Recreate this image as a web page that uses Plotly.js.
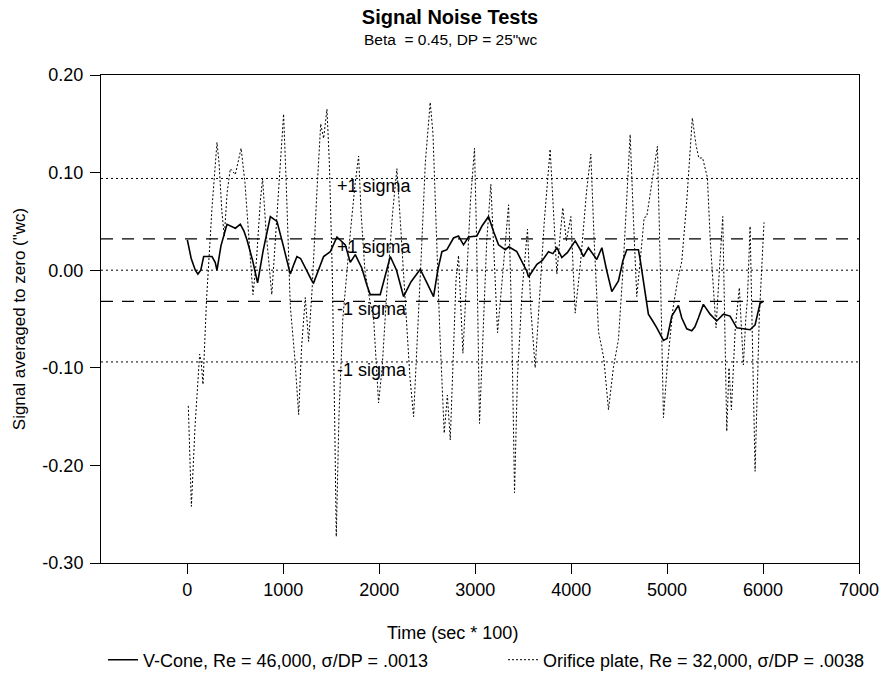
<!DOCTYPE html>
<html>
<head>
<meta charset="utf-8">
<script src="https://cdn.plot.ly/plotly-3.0.1.min.js"></script>
<style>html,body{margin:0;padding:0;background:#fff;}#chart{width:888px;height:677px;}</style>
</head>
<body>
<div id="chart"></div>
<script>
// ---- data ----
var vconeX = [0, 40, 83, 110, 140, 170, 257, 290, 309, 350, 413, 460, 500, 552, 590, 622, 680, 732, 790, 865, 934, 1000, 1073, 1110, 1142, 1180, 1240, 1299, 1316, 1380, 1420, 1490, 1559, 1646, 1698, 1750, 1819, 1870, 1906, 2010, 2060, 2115, 2180, 2253, 2330, 2427, 2497, 2566, 2610, 2653, 2705, 2774, 2826, 2878, 2930, 3017, 3069, 3139, 3190, 3243, 3313, 3350, 3434, 3490, 3538, 3556, 3600, 3643, 3700, 3764, 3810, 3851, 3903, 3960, 4042, 4090, 4128, 4180, 4267, 4320, 4370, 4424, 4493, 4540, 4580, 4640, 4701, 4719, 4771, 4805, 4850, 4893, 4962, 5000, 5049, 5118, 5153, 5205, 5257, 5290, 5326, 5378, 5448, 5517, 5587, 5656, 5726, 5800, 5865, 5917, 5969, 6003];
var vconeY = [0.031, 0.012, 0.000, -0.004, 0.000, 0.014, 0.014, 0.008, 0.000, 0.025, 0.047, 0.045, 0.043, 0.047, 0.040, 0.031, 0.010, -0.013, 0.020, 0.055, 0.050, 0.025, -0.004, 0.006, 0.014, 0.012, 0.000, -0.011, -0.013, 0.004, 0.014, 0.019, 0.034, 0.026, 0.008, 0.016, 0.002, -0.015, -0.025, -0.025, -0.005, 0.014, 0.000, -0.027, -0.012, 0.001, -0.013, -0.027, 0.000, 0.019, 0.021, 0.033, 0.035, 0.026, 0.034, 0.035, 0.045, 0.055, 0.040, 0.026, 0.021, 0.024, 0.019, 0.008, -0.001, -0.007, 0.000, 0.006, 0.010, 0.019, 0.017, 0.023, 0.013, 0.018, 0.030, 0.022, 0.014, 0.023, 0.011, 0.023, 0.000, -0.022, -0.011, 0.010, 0.021, 0.021, 0.021, 0.011, -0.025, -0.045, -0.052, -0.059, -0.072, -0.070, -0.047, -0.036, -0.049, -0.060, -0.062, -0.058, -0.049, -0.035, -0.045, -0.052, -0.045, -0.047, -0.059, -0.060, -0.061, -0.056, -0.034, -0.032];

var orificeX = [10, 25, 42, 80, 128, 145, 163, 200, 257, 309, 330, 360, 385, 415, 448, 500, 560, 600, 640, 684, 720, 760, 784, 820, 880, 930, 970, 1003, 1030, 1060, 1073, 1120, 1160, 1190, 1229, 1264, 1300, 1350, 1390, 1420, 1455, 1480, 1510, 1535, 1552, 1580, 1620, 1700, 1750, 1785, 1810, 1850, 1900, 1941, 1993, 2030, 2080, 2140, 2184, 2220, 2270, 2320, 2358, 2400, 2440, 2480, 2531, 2560, 2590, 2630, 2677, 2710, 2740, 2770, 2800, 2826, 2850, 2872, 2910, 2950, 2993, 3015, 3045, 3080, 3120, 3163, 3195, 3233, 3290, 3348, 3380, 3410, 3440, 3490, 3545, 3580, 3625, 3670, 3720, 3781, 3815, 3851, 3880, 3913, 3950, 3997, 4042, 4100, 4160, 4205, 4240, 4285, 4340, 4389, 4440, 4493, 4540, 4580, 4615, 4650, 4684, 4720, 4761, 4788, 4840, 4899, 4930, 4962, 5000, 5060, 5110, 5153, 5205, 5240, 5263, 5300, 5330, 5370, 5420, 5450, 5480, 5510, 5545, 5580, 5600, 5622, 5645, 5670, 5710, 5753, 5775, 5795, 5820, 5837, 5865, 5890, 5917, 5960, 6010];
var orificeY = [-0.139, -0.200, -0.242, -0.160, -0.086, -0.095, -0.117, -0.030, 0.064, 0.131, 0.110, 0.060, 0.035, 0.080, 0.104, 0.098, 0.125, 0.090, 0.030, -0.025, 0.010, 0.070, 0.094, 0.040, -0.025, 0.050, 0.120, 0.160, 0.090, -0.010, -0.037, -0.090, -0.148, -0.080, -0.028, -0.073, -0.020, 0.080, 0.150, 0.135, 0.165, 0.110, 0.000, -0.150, -0.273, -0.150, -0.050, 0.040, 0.090, 0.117, 0.060, 0.000, -0.030, -0.049, -0.136, -0.100, -0.020, 0.060, 0.104, 0.050, -0.030, -0.110, -0.150, -0.070, 0.020, 0.110, 0.172, 0.140, 0.050, -0.060, -0.167, -0.128, -0.174, -0.080, -0.010, 0.015, -0.040, -0.085, -0.010, 0.070, 0.125, 0.030, -0.157, -0.060, 0.030, 0.088, 0.010, -0.064, 0.000, 0.067, -0.050, -0.228, -0.110, -0.020, 0.042, -0.040, -0.100, -0.030, 0.050, 0.124, 0.060, -0.004, 0.030, 0.064, 0.030, 0.055, -0.044, 0.010, 0.080, 0.119, 0.030, -0.063, -0.090, -0.143, -0.100, -0.071, 0.000, 0.080, 0.139, 0.050, -0.027, 0.010, 0.054, 0.055, 0.090, 0.127, 0.000, -0.151, -0.100, -0.040, -0.010, 0.009, 0.071, 0.130, 0.156, 0.129, 0.115, 0.115, 0.095, 0.030, -0.020, -0.059, 0.000, 0.055, -0.050, -0.165, -0.100, -0.143, -0.060, -0.018, -0.060, -0.097, -0.050, -0.030, 0.045, -0.080, -0.206, -0.050, 0.049];

var seriesNames = ['V-Cone, Re = 46,000, \u03c3/DP = .0013', 'Orifice plate, Re = 32,000, \u03c3/DP = .0038'];
var sigmaOrifice = [0.094, -0.094];
var sigmaVcone = [0.032, -0.032];
var sigmaLabels = ['+1 sigma', '+1 sigma', '-1 sigma', '-1 sigma'];
var sigmaLabelY = [0.094, 0.032, -0.032, -0.094];
var xTickVals = [0, 1000, 2000, 3000, 4000, 5000, 6000, 7000];
var xTickText = ['0', '1000', '2000', '3000', '4000', '5000', '6000', '7000'];
var yTickVals = [0.2, 0.1, 0, -0.1, -0.2, -0.3];
var yTickText = ['0.20', '0.10', '0.00', '-0.10', '-0.20', '-0.30'];

// ---- chart ----
var FONT = 'Liberation Sans, Arial, Helvetica, sans-serif';
var traces = [
  {x: vconeX, y: vconeY, type: 'scatter', mode: 'lines', name: seriesNames[0], legend: 'legend',
   line: {color: '#000', width: 1.6}},
  {x: orificeX, y: orificeY, type: 'scatter', mode: 'lines', name: seriesNames[1], legend: 'legend2',
   line: {color: '#000', width: 1, dash: '2px,2px'}}
];

var shapes = [];
sigmaOrifice.forEach(function (v) {
  shapes.push({type: 'line', xref: 'x domain', yref: 'y', x0: 0, x1: 1, y0: v, y1: v,
    line: {color: '#000', width: 1, dash: '2px,3px'}});
});
sigmaVcone.forEach(function (v) {
  shapes.push({type: 'line', xref: 'x domain', yref: 'y', x0: 0, x1: 1, y0: v, y1: v,
    line: {color: '#000', width: 1.2, dash: '12px,9px'}});
});
shapes.push({type: 'line', xref: 'x domain', yref: 'y', x0: 0, x1: 1, y0: 0, y1: 0,
  line: {color: '#000', width: 1, dash: '2px,3px'}});

var annotations = sigmaLabels.map(function (t, i) {
  return {text: t, x: 1540, y: sigmaLabelY[i], xref: 'x', yref: 'y', xanchor: 'left', yanchor: 'top',
    yshift: 4, showarrow: false, font: {family: FONT, size: 18, color: '#000'}};
});
annotations.push({text: 'Beta\u00a0 = 0.45, DP = 25"wc', xref: 'paper', yref: 'paper', x: (450 - 101) / 758, y: (563 - 39) / 488,
  xanchor: 'center', yanchor: 'middle', showarrow: false, font: {family: FONT, size: 15.5, color: '#000'}});
// x axis title, placed like the reference (centred on the figure, not the plot)
annotations.push({text: 'Time (sec * 100)', xref: 'paper', yref: 'paper', x: (452 - 101) / 758, y: -(633 - 563) / 488,
  xanchor: 'center', yanchor: 'middle', showarrow: false, font: {family: FONT, size: 18, color: '#000'}});

var legendBase = {orientation: 'h', xref: 'container', xanchor: 'left', yref: 'container',
  y: 1 - 660 / 677, yanchor: 'middle', font: {family: FONT, size: 18, color: '#000'},
  bgcolor: 'rgba(0,0,0,0)', borderwidth: 0};

var layout = {
  width: 888, height: 677,
  margin: {l: 101, r: 29, t: 75, b: 114, pad: 0},
  paper_bgcolor: '#fff', plot_bgcolor: '#fff',
  font: {family: FONT, size: 18, color: '#000'},
  title: {text: '<b>Signal Noise Tests</b>', x: 450/888, xref: 'container', xanchor: 'center',
    y: 1 - 17/677, yref: 'container', yanchor: 'middle', font: {family: FONT, size: 20, color: '#000'}},
  showlegend: true,
  legend: Object.assign({}, legendBase, {x: 103 / 888}),
  legend2: Object.assign({}, legendBase, {x: 503 / 888}),
  xaxis: {range: [-900, 7000], tickmode: 'array', tickvals: xTickVals, ticktext: xTickText,
    showline: true, mirror: true, linecolor: '#000', linewidth: 1, ticks: 'outside', ticklen: 10,
    tickcolor: '#000', showgrid: false, zeroline: false, tickfont: {family: FONT, size: 18}},
  yaxis: {range: [-0.3, 0.2], tickmode: 'array', tickvals: yTickVals, ticktext: yTickText,
    showline: true, mirror: true, linecolor: '#000', linewidth: 1, ticks: 'outside', ticklen: 10,
    tickcolor: '#000', showgrid: false, zeroline: false, tickfont: {family: FONT, size: 18},
    ticklabelstandoff: 3,
    title: {text: 'Signal averaged to zero ("wc)', font: {family: FONT, size: 17}, standoff: 12}},
  shapes: shapes,
  annotations: annotations
};

Plotly.newPlot('chart', traces, layout, {displayModeBar: false, staticPlot: true});
</script>
</body>
</html>
